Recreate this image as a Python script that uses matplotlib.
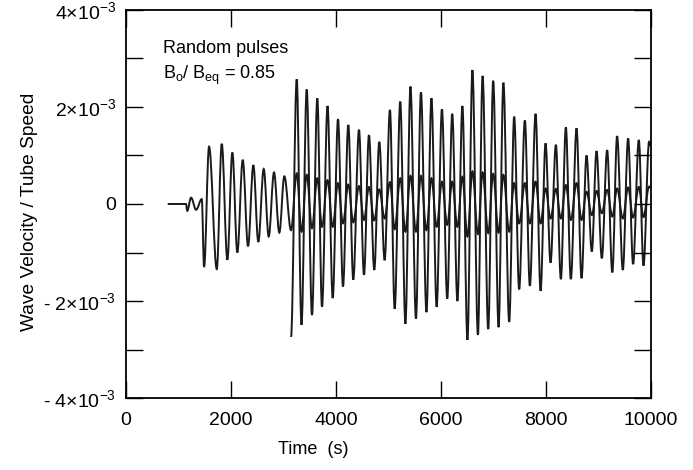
import numpy as np
import matplotlib
matplotlib.use("Agg")
import matplotlib.pyplot as plt
from matplotlib.path import Path
from matplotlib.patches import PathPatch
from matplotlib.ticker import MultipleLocator

plt.rcParams['font.family'] = ['Liberation Sans', 'DejaVu Sans']
plt.rcParams['mathtext.fontset'] = 'custom'
plt.rcParams['mathtext.rm'] = 'Liberation Sans'
plt.rcParams['mathtext.it'] = 'Liberation Sans:italic'

# first pulse before the second one starts (time s, value in 1e-3)
early_t = [793, 1140, 1165, 1238, 1334, 1442, 1486, 1581, 1728, 1823, 1930, 2025,
           2120, 2223, 2324, 2425, 2520, 2623, 2718, 2819, 2920, 3016]
early_v = [0, 0, -0.14, 0.13, -0.12, 0.10, -1.30, 1.18, -1.34, 1.24, -1.15, 1.06,
           -1.00, 0.91, -0.87, 0.80, -0.78, 0.72, -0.67, 0.65, -0.59, 0.57]

# extremum times after the second pulse starts (both curves share them)
late_t = [3143, 3252, 3343, 3442, 3543, 3644, 3734, 3839, 3938, 4039, 4134, 4235,
          4330, 4439, 4534, 4629, 4730, 4825, 4928, 5029, 5119, 5225, 5324, 5420,
          5525, 5620, 5725, 5820, 5919, 6020, 6121, 6216, 6315, 6410, 6506, 6601,
          6706, 6795, 6902, 6997, 7100, 7191, 7302, 7397, 7492, 7601, 7696, 7805,
          7900, 7995, 8090, 8192, 8287, 8382, 8477, 8586, 8681, 8776, 8877, 8967,
          9068, 9169, 9268, 9359, 9468, 9569, 9664, 9773, 9862, 9969, 10000]

# small curve (continuation of first pulse)
late_a = [-0.54,
          0.63, -0.57, 0.60, -0.50, 0.53, -0.47, 0.49, -0.47, 0.43, -0.40,
          0.40, -0.38, 0.37, -0.33, 0.35, -0.34, 0.30, -0.30, 0.45, -0.52,
          0.53, -0.57, 0.58, -0.57, 0.58, -0.54, 0.53, -0.47, 0.46, -0.43,
          0.46, -0.47, 0.56, -0.67, 0.67, -0.62, 0.65, -0.60, 0.62, -0.59,
          0.60, -0.57, 0.43, -0.40, 0.43, -0.40, 0.46, -0.40, 0.32, -0.30,
          0.31, -0.30, 0.39, -0.33, 0.43, -0.33, 0.25, -0.23, 0.27, -0.19,
          0.29, -0.26, 0.32, -0.30, 0.34, -0.28, 0.35, -0.27, 0.36, 0.33]

# large curve (second pulse)
late_b = [-2.74,
          2.57, -2.49, 2.36, -2.29, 2.18, -2.12, 2.02, -1.94, 1.75, -1.70,
          1.63, -1.56, 1.53, -1.46, 1.42, -1.36, 1.28, -1.16, 1.94, -2.16,
          2.11, -2.47, 2.42, -2.36, 2.30, -2.23, 2.18, -2.12, 1.95, -1.95,
          1.86, -2.00, 2.02, -2.80, 2.76, -2.70, 2.64, -2.58, 2.54, -2.54,
          2.50, -2.43, 1.80, -1.76, 1.72, -1.69, 1.86, -1.79, 1.25, -1.21,
          1.22, -1.55, 1.58, -1.55, 1.56, -1.53, 1.00, -0.98, 1.09, -1.12,
          1.11, -1.41, 1.40, -1.36, 1.35, -1.24, 1.32, -1.27, 1.28, 1.20]

ytick_vals = [-4e-3, -2e-3, 0, 2e-3, 4e-3]
ytick_labels = ['- 4×10$^{-3}$', '- 2×10$^{-3}$', '0', '2×10$^{-3}$', '4×10$^{-3}$']


def smooth_path(t, v):
    # cubic bezier between extrema with flat tangents (cosine-like swing)
    t = np.asarray(t, float)
    v = np.asarray(v, float) * 1e-3
    k = 0.363
    verts = [(t[0], v[0])]
    codes = [Path.MOVETO]
    for i in range(len(t) - 1):
        dt = t[i + 1] - t[i]
        verts += [(t[i] + k * dt, v[i]), (t[i + 1] - k * dt, v[i + 1]), (t[i + 1], v[i + 1])]
        codes += [Path.CURVE4] * 3
    return Path(verts, codes)


fig = plt.figure(figsize=(6.93, 4.70), dpi=100)
ax = fig.add_axes([0.182, 0.153, 0.757, 0.826])

line_a = smooth_path(early_t + late_t, early_v + late_a)
line_b = smooth_path(late_t, late_b)
for p in (line_a, line_b):
    ax.add_patch(PathPatch(p, facecolor='none', edgecolor='#1a1a1a', lw=1.4,
                           transform=ax.transData))

ax.set_xlim(0, 10000)
ax.set_ylim(-4e-3, 4e-3)
ax.set_xticks([0, 2000, 4000, 6000, 8000, 10000])
ax.set_yticks(ytick_vals)
ax.set_yticklabels(ytick_labels)
ax.yaxis.set_minor_locator(MultipleLocator(1e-3))
ax.tick_params(which='both', direction='in', top=True, right=True,
               length=12, width=1.0, labelsize=14)
ax.tick_params(axis='x', pad=10)
ax.tick_params(axis='y', pad=7)
for s in ax.spines.values():
    s.set_linewidth(1.3)

ax.set_xlabel('Time  (s)', fontsize=13)
ax.xaxis.set_label_coords(0.356, -0.11)
ax.set_ylabel('Wave Velocity / Tube Speed', fontsize=13.8)
ax.yaxis.set_label_coords(-0.168, 0.479)

ax.text(0.07, 0.922, 'Random pulses', transform=ax.transAxes, fontsize=13, va='top')
ax.text(0.07, 0.862, 'B$_\\mathrm{o}$/ B$_\\mathrm{eq}$ = 0.85', transform=ax.transAxes,
        fontsize=13, va='top')

fig.savefig('out.png', dpi=100)
